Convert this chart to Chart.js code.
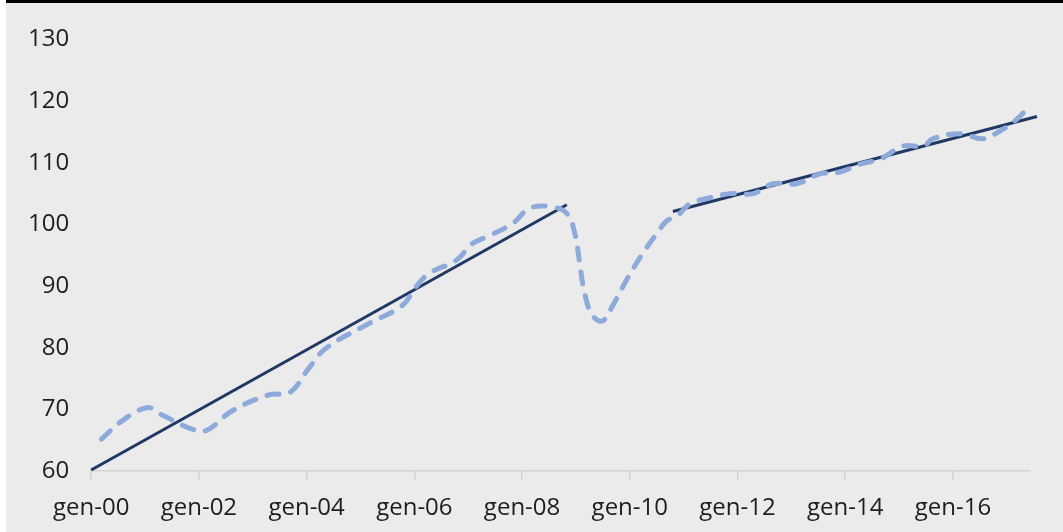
<!DOCTYPE html>
<html>
<head>
<meta charset="utf-8">
<script src="https://cdn.jsdelivr.net/npm/chart.js@4.4.0/dist/chart.umd.min.js"></script>
<style>
  html, body { margin: 0; padding: 0; background: #ffffff; overflow: hidden; }
  #wrap { position: absolute; left: 6px; top: 0; width: 1057px; height: 529px; border-top: 3px solid #000; background: #ebebeb; overflow: hidden; }
  canvas { display: block; }
</style>
</head>
<body>
<div id="wrap"><canvas id="c" width="1057" height="534"></canvas></div>
<script>
// Years since Jan 2000 (gen-00 = 0)
const seriesYears = [0.19, 0.58, 1.04, 1.30, 1.88, 2.14, 2.62, 3.31, 3.68, 4.05, 4.37, 5.17, 5.78, 6.04, 6.28, 6.78, 7.08, 7.40, 7.83, 8.14, 8.51, 8.83, 8.98, 9.07, 9.16, 9.31, 9.50, 9.68, 9.94, 10.24, 10.50, 10.69, 10.87, 11.12, 11.43, 11.86, 12.29, 12.66, 13.10, 13.53, 13.90, 14.28, 14.65, 15.07, 15.45, 15.63, 16.13, 16.56, 16.88, 17.12, 17.38, 17.43];
const seriesValues = [65.2, 68.2, 70.3, 69.2, 66.8, 66.6, 69.8, 72.4, 72.7, 76.8, 80.0, 84.0, 86.9, 90.0, 92.1, 94.2, 96.9, 98.2, 100.2, 102.6, 102.9, 101.8, 98.5, 93.7, 88.9, 85.2, 84.4, 86.8, 91.0, 95.3, 98.5, 100.6, 101.3, 103.4, 104.2, 105.0, 105.0, 106.6, 106.6, 108.2, 108.5, 109.8, 110.6, 112.7, 112.7, 113.9, 114.7, 113.9, 115.2, 116.6, 118.7, 119.2];
const trend1Years = [0, 8.83];
const trend1Values = [60.2, 103.2];
const trend2Years = [10.8, 17.56];
const trend2Values = [102.1, 117.5];
const tickYears = [0, 2, 4, 6, 8, 10, 12, 14, 16];
const tickLabels = ['gen-00', 'gen-02', 'gen-04', 'gen-06', 'gen-08', 'gen-10', 'gen-12', 'gen-14', 'gen-16'];

const pts = (xs, ys) => xs.map((x, i) => ({ x: x, y: ys[i] }));
const FONT = { family: "'Open Sans', sans-serif", size: 24 };

new Chart(document.getElementById('c'), {
  type: 'line',
  data: {
    datasets: [
      { data: pts(seriesYears, seriesValues), borderColor: '#8eaadb', borderWidth: 5, borderDash: [12, 12], borderCapStyle: 'round', tension: 0.4, pointRadius: 0, fill: false, clip: false },
      { data: pts(trend1Years, trend1Values), borderColor: '#1f3864', borderWidth: 3, tension: 0, pointRadius: 0, fill: false, clip: false },
      { data: pts(trend2Years, trend2Values), borderColor: '#1f3864', borderWidth: 3, tension: 0, pointRadius: 0, fill: false, clip: false }
    ]
  },
  options: {
    responsive: false,
    animation: false,
    events: [],
    layout: { padding: { left: 0, right: 33, top: 28, bottom: 0 } },
    plugins: { legend: { display: false }, tooltip: { enabled: false } },
    scales: {
      x: {
        type: 'linear', min: 0, max: 17.43,
        afterBuildTicks: (axis) => { axis.ticks = tickYears.map(v => ({ value: v })); },
        ticks: { autoSkip: false, maxRotation: 0, color: '#1e1e1e', font: FONT, padding: 14,
          callback: (v) => { const i = tickYears.indexOf(v); return i >= 0 ? tickLabels[i] : ''; } },
        grid: { drawOnChartArea: false, drawTicks: true, tickLength: 9, color: '#d4d4d4', lineWidth: 1.5 },
        border: { display: true, color: '#d4d4d4', width: 1.5 }
      },
      y: {
        min: 60, max: 130,
        ticks: { stepSize: 10, color: '#1e1e1e', font: FONT, padding: 22 },
        grid: { display: false, drawTicks: false },
        border: { display: false }
      }
    }
  }
});
</script>
</body>
</html>
